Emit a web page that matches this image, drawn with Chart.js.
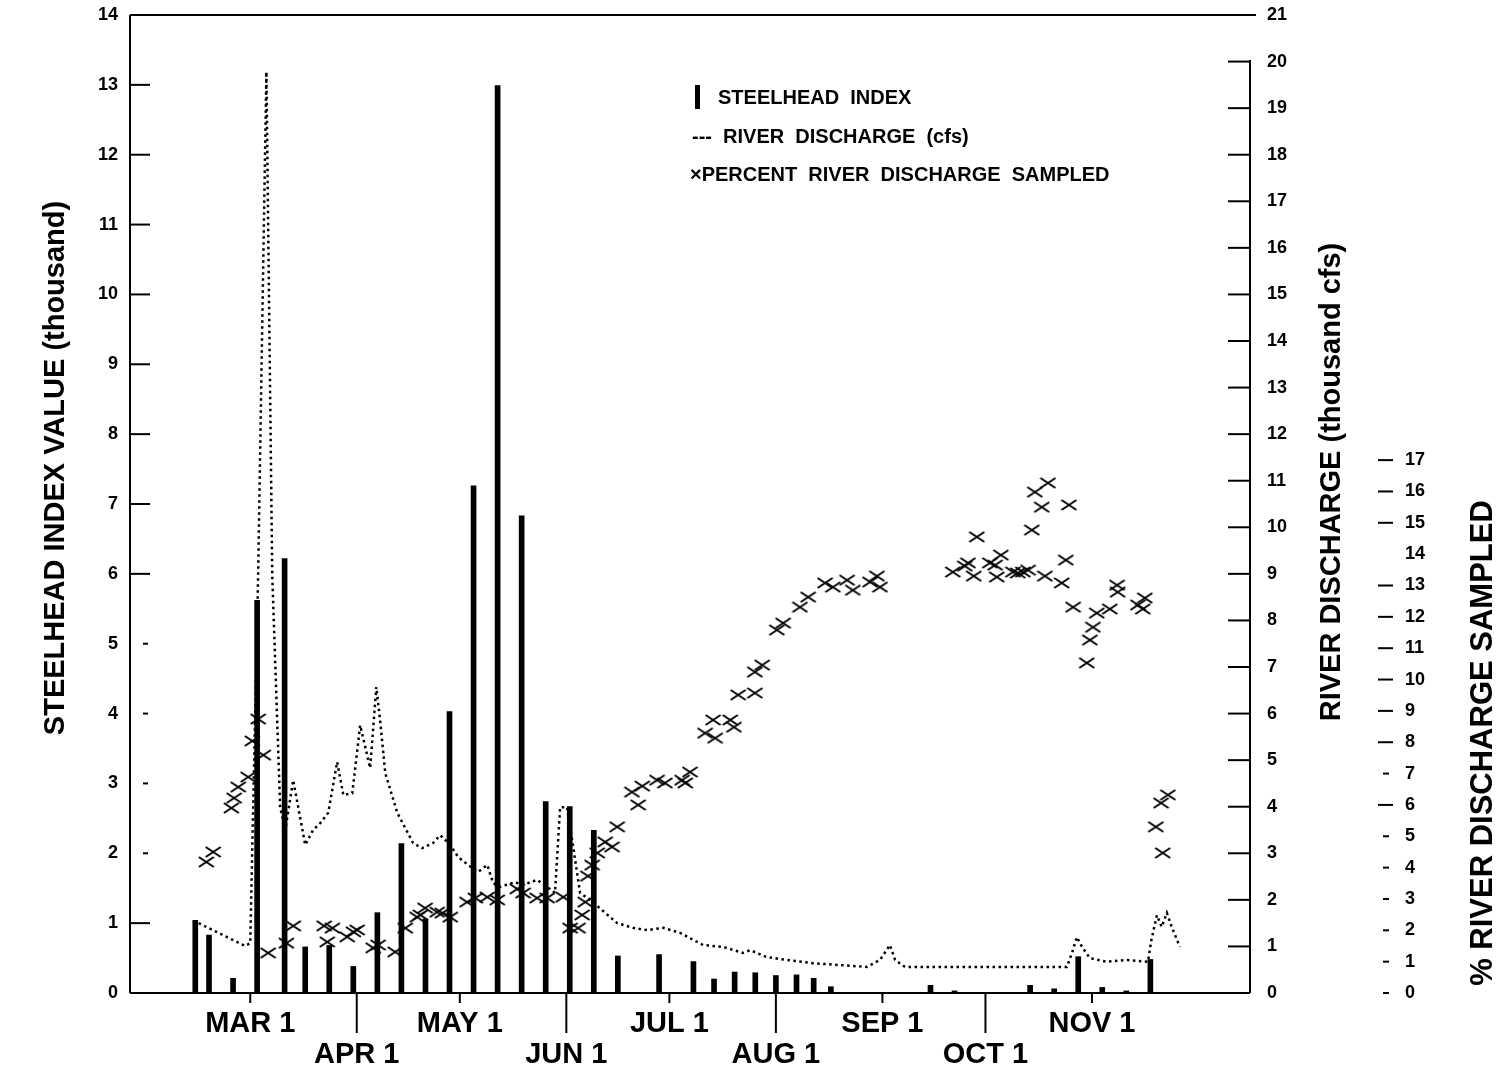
<!DOCTYPE html>
<html>
<head>
<meta charset="utf-8">
<script src="https://cdn.jsdelivr.net/npm/chart.js@4.4.1/dist/chart.umd.min.js"></script>
<style>
  html, body { margin: 0; padding: 0; background: #fff; }
  canvas { display: block; }
</style>
</head>
<body>
<canvas id="chart" width="1507" height="1068"></canvas>
<script>
// x values are day of year (MAR 1 = 60)
const monthDays = [60, 91, 121, 152, 182, 213, 244, 274, 305];
const monthLabels = ['MAR 1', 'APR 1', 'MAY 1', 'JUN 1', 'JUL 1', 'AUG 1', 'SEP 1', 'OCT 1', 'NOV 1'];

// steelhead index value (thousand)
const indexDays = [44, 48, 55, 62, 70, 76, 83, 90, 97, 104, 111, 118, 125, 132, 139, 146, 153, 160, 167,
  179, 189, 195, 201, 207, 213, 219, 224, 229, 258, 265, 287, 294, 301, 308, 315, 322];
const indexValues = [1.04, 0.83, 0.21, 5.62, 6.22, 0.66, 0.68, 0.38, 1.15, 2.14, 1.06, 4.03, 7.26, 12.99, 6.83, 2.74, 2.67, 2.33, 0.53,
  0.55, 0.45, 0.2, 0.3, 0.29, 0.25, 0.26, 0.21, 0.09, 0.11, 0.03, 0.11, 0.06, 0.52, 0.08, 0.03, 0.48];

// river discharge (thousand cfs)
const flowDays = [45, 58.5, 60, 62.3, 64.7, 66.4, 68.7, 70.2, 72.5, 76, 78.3, 80.4, 82.7, 85.3, 87.1, 89.7, 92, 94.9, 96.7, 97.8,
  99.3, 102.8, 107.4, 110, 113.2, 115.3, 118.2, 120.5, 123.4, 126.3, 129, 130.7, 132.7, 137.1, 139.4, 143.5, 146.4, 148.7, 150.2, 152.2,
  154, 156, 158.9, 162.4, 166.8, 171.4, 175.5, 180.2, 185.1, 191.8, 197.6, 203.4, 205.5, 210.4, 216.2, 223.8, 231.7, 239.5, 243.3, 246.2,
  247.7, 250.6, 289.9, 297.7, 299.2, 300.6, 302.1, 304.4, 309.3, 315.2, 321.3, 322.3, 323.9, 325.3, 326.8, 328.2, 330.6];
const flowValues = [1.50, 1.01, 1.07, 8.98, 19.78, 8.98, 3.99, 3.50, 4.57, 3.18, 3.50, 3.65, 3.87, 4.96, 4.25, 4.29, 5.75, 4.83, 6.57, 5.86,
  4.72, 3.87, 3.22, 3.11, 3.22, 3.39, 3.18, 2.92, 2.75, 2.60, 2.75, 2.36, 2.28, 2.38, 2.32, 2.43, 2.28, 2.15, 3.99, 3.99,
  3.14, 2.15, 2.0, 1.78, 1.50, 1.40, 1.35, 1.40, 1.29, 1.03, 0.99, 0.86, 0.92, 0.77, 0.71, 0.64, 0.60, 0.56, 0.71, 1.03,
  0.71, 0.56, 0.56, 0.56, 0.86, 1.20, 0.99, 0.75, 0.67, 0.71, 0.67, 1.14, 1.67, 1.42, 1.72, 1.42, 0.99];

// percent river discharge sampled
const pctDays = [47.2, 49.2, 54.5, 55.3, 56.5, 59.4, 60.6, 62.3, 63.8, 65.2,
  70.5, 72.5, 81.5, 82.4, 83.9, 88.2, 90, 91.1, 95.8, 97.2,
  102.2, 105.1, 108.6, 109.5, 110.9, 114.4, 115.9, 118.2, 123.1, 125.5,
  129, 131.9, 137.7, 139.4, 143.5, 146.4, 151.1, 153.1, 155.4, 156.6,
  157.5, 158.3, 159.5, 161, 163.3, 165.3, 166.8, 171.1, 172.9, 174.1,
  178.4, 180.7, 185.7, 186.6, 188, 192.4, 194.7, 195.3, 199.7, 200.8,
  202, 206.9, 206.9, 209, 213.3, 215.1, 220, 222.4, 227.3, 229.6,
  233.7, 235.4, 240.4, 242.4, 243.3, 264.5, 268, 268.9, 270.6, 271.5,
  275.3, 276.8, 278.5, 277.3, 282, 283.4, 284.9, 286.4, 287.5, 288.4,
  290.4, 292.2, 291.3, 296.2, 297.4, 298.3, 299.5, 303.5, 304.4, 305.3,
  306.4, 310.2, 312.3, 312.5, 318.4, 319.8, 320.4, 323.6, 325.1, 325.6, 327.1];
const pctValues = [4.18, 4.50, 5.90, 6.22, 6.57, 6.89, 8.04, 8.74, 7.59, 1.28,
  1.59, 2.14, 2.14, 1.63, 2.07, 1.79, 1.95, 2.01, 1.44, 1.53,
  1.31, 2.07, 2.42, 2.49, 2.71, 2.58, 2.55, 2.42, 2.90, 3.03,
  3.06, 2.97, 3.32, 3.19, 3.03, 3.03, 3.06, 2.07, 2.07, 2.49,
  2.90, 3.73, 4.08, 4.47, 4.82, 4.66, 5.30, 6.41, 6.00, 6.60,
  6.79, 6.70, 6.79, 6.70, 7.05, 8.29, 8.71, 8.13, 8.71, 8.48,
  9.51, 9.57, 10.24, 10.46, 11.58, 11.80, 12.31, 12.63, 13.08, 12.95,
  13.17, 12.85, 13.11, 13.30, 12.95, 13.43, 13.62, 13.72, 13.30, 14.55,
  13.72, 13.65, 13.97, 13.27, 13.43, 13.40, 13.43, 13.49, 14.77, 15.98,
  15.50, 16.27, 13.30, 13.08, 13.81, 15.57, 12.31, 10.53, 11.26, 11.67,
  12.12, 12.25, 13.01, 12.79, 12.38, 12.25, 12.60, 5.30, 6.06, 4.47, 6.32];

const indexTicks = [0, 1, 2, 3, 4, 5, 6, 7, 8, 9, 10, 11, 12, 13, 14];
const flowTicks = [0, 1, 2, 3, 4, 5, 6, 7, 8, 9, 10, 11, 12, 13, 14, 15, 16, 17, 18, 19, 20, 21];
const pctTicks = [0, 1, 2, 3, 4, 5, 6, 7, 8, 9, 10, 11, 12, 13, 14, 15, 16, 17];

const FONT = "'Liberation Sans', Arial, sans-serif";

// flattened x marker like the original plot symbol
function makeCross() {
    const c = document.createElement('canvas');
    c.width = 17;
    c.height = 12;
    const g = c.getContext('2d');
    g.strokeStyle = '#000';
    g.lineWidth = 2;
    g.beginPath();
    g.moveTo(1, 1); g.lineTo(16, 11);
    g.moveTo(1, 11); g.lineTo(16, 1);
    g.stroke();
    return c;
}

function line(ctx, x1, y1, x2, y2) {
    ctx.beginPath();
    ctx.moveTo(x1, y1);
    ctx.lineTo(x2, y2);
    ctx.stroke();
}

function vText(ctx, text, x, y, font) {
    ctx.save();
    ctx.translate(x, y);
    ctx.rotate(-Math.PI / 2);
    ctx.font = font;
    ctx.textAlign = 'center';
    ctx.textBaseline = 'middle';
    ctx.fillText(text, 0, 0);
    ctx.restore();
}

// fixed axis box size, no extra room asked for the end labels
function fitWidth(w) {
    return s => {
        s.width = w;
        s.paddingTop = 0;
        s.paddingBottom = 0;
    };
}

// frame, inside tick marks, axis titles and the legend box text
const decorations = {
    id: 'decorations',
    afterDraw(chart) {
        const { ctx, chartArea: a, scales } = chart;
        ctx.save();
        ctx.strokeStyle = '#000';
        ctx.fillStyle = '#000';
        ctx.lineWidth = 2;

        line(ctx, a.left, a.top, a.right + 6, a.top);
        line(ctx, a.left, a.top, a.left, a.bottom);
        line(ctx, a.left, a.bottom, a.right, a.bottom);
        line(ctx, a.right, a.top + 45, a.right, a.bottom);

        indexTicks.forEach(v => {
            if (v === 0 || v === 14) return;
            const y = scales.y.getPixelForValue(v);
            if (v >= 2 && v <= 5) line(ctx, a.left + 13, y, a.left + 18, y);
            else line(ctx, a.left, y, a.left + 20, y);
        });
        flowTicks.forEach(v => {
            if (v === 0 || v === 21) return;
            const y = scales.y2.getPixelForValue(v);
            line(ctx, a.right - 22, y, a.right, y);
        });
        const px = scales.y3.left;
        pctTicks.forEach(v => {
            if (v === 14) return;
            const y = scales.y3.getPixelForValue(v);
            if (v < 6 || v === 7) line(ctx, px - 12, y, px - 6, y);
            else line(ctx, px - 17, y, px - 2, y);
        });
        monthDays.forEach((d, i) => {
            const x = scales.x.getPixelForValue(d);
            line(ctx, x, a.bottom, x, a.bottom + (i % 2 === 0 ? 10 : 40));
        });

        vText(ctx, 'STEELHEAD INDEX VALUE (thousand)', 56, 468, 'bold 29px ' + FONT);
        vText(ctx, 'RIVER DISCHARGE (thousand cfs)', 1332, 482, 'bold 29px ' + FONT);
        vText(ctx, '% RIVER DISCHARGE SAMPLED', 1483, 743, 'bold 31px ' + FONT);

        // legend
        ctx.font = 'bold 20px ' + FONT;
        ctx.textBaseline = 'middle';
        ctx.textAlign = 'left';
        ctx.fillRect(695, 85, 5, 24);
        ctx.fillText('STEELHEAD  INDEX', 718, 98);
        ctx.fillText('---  RIVER  DISCHARGE  (cfs)', 692, 137);
        ctx.fillText('\u00d7PERCENT  RIVER  DISCHARGE  SAMPLED', 690, 175);
        ctx.restore();
    }
};

const tickFont = { family: FONT, size: 18, weight: 'bold' };
const ctx = document.getElementById('chart').getContext('2d');

new Chart(ctx, {
    type: 'bar',
    data: {
        datasets: [
            {
                type: 'line',
                label: 'PERCENT RIVER DISCHARGE SAMPLED',
                data: pctDays.map((d, i) => ({ x: d, y: pctValues[i] })),
                yAxisID: 'y3',
                showLine: false,
                pointStyle: makeCross(),
                pointRadius: 8,
                borderColor: '#000',
                backgroundColor: '#000'
            },
            {
                type: 'line',
                label: 'RIVER DISCHARGE (cfs)',
                data: flowDays.map((d, i) => ({ x: d, y: flowValues[i] })),
                yAxisID: 'y2',
                borderColor: '#000',
                borderWidth: 2.5,
                borderDash: [2.5, 3.5],
                pointRadius: 0,
                tension: 0,
                fill: false
            },
            {
                type: 'bar',
                label: 'STEELHEAD INDEX',
                data: indexDays.map((d, i) => ({ x: d, y: indexValues[i] })),
                yAxisID: 'y',
                backgroundColor: '#000',
                barThickness: 5
            }
        ]
    },
    options: {
        responsive: false,
        animation: false,
        devicePixelRatio: 1,
        layout: { padding: { top: 15, left: 0, right: 0, bottom: 0 } },
        plugins: {
            legend: { display: false },
            tooltip: { enabled: false }
        },
        scales: {
            x: {
                type: 'linear',
                offset: false,
                min: 25,
                max: 351,
                afterBuildTicks: s => { s.ticks = monthDays.map(v => ({ value: v })); },
                afterFit: s => { s.height = 75; },
                grid: { display: false, drawTicks: false, offset: false },
                border: { display: false },
                ticks: {
                    autoSkip: false,
                    maxRotation: 0,
                    padding: 16,
                    color: '#000',
                    font: { family: FONT, size: 29, weight: 'bold', lineHeight: 1.05 },
                    callback: v => {
                        const i = monthDays.indexOf(v);
                        return i % 2 === 0 ? [monthLabels[i], ''] : ['', monthLabels[i]];
                    }
                }
            },
            y: {
                position: 'left',
                min: 0,
                max: 14,
                afterBuildTicks: s => { s.ticks = indexTicks.map(v => ({ value: v })); },
                afterFit: fitWidth(130),
                grid: { display: false, drawTicks: false },
                border: { display: false },
                ticks: { padding: 12, color: '#000', font: tickFont }
            },
            y2: {
                position: 'right',
                min: 0,
                max: 21,
                afterBuildTicks: s => { s.ticks = flowTicks.map(v => ({ value: v })); },
                afterFit: fitWidth(145),
                grid: { display: false, drawTicks: false },
                border: { display: false },
                ticks: { padding: 17, color: '#000', font: tickFont }
            },
            y3: {
                position: 'right',
                min: 0,
                max: 31.2,
                afterBuildTicks: s => { s.ticks = pctTicks.map(v => ({ value: v })); },
                afterFit: fitWidth(112),
                grid: { display: false, drawTicks: false },
                border: { display: false },
                ticks: { padding: 10, color: '#000', font: tickFont }
            }
        }
    },
    plugins: [decorations]
});
</script>
</body>
</html>
